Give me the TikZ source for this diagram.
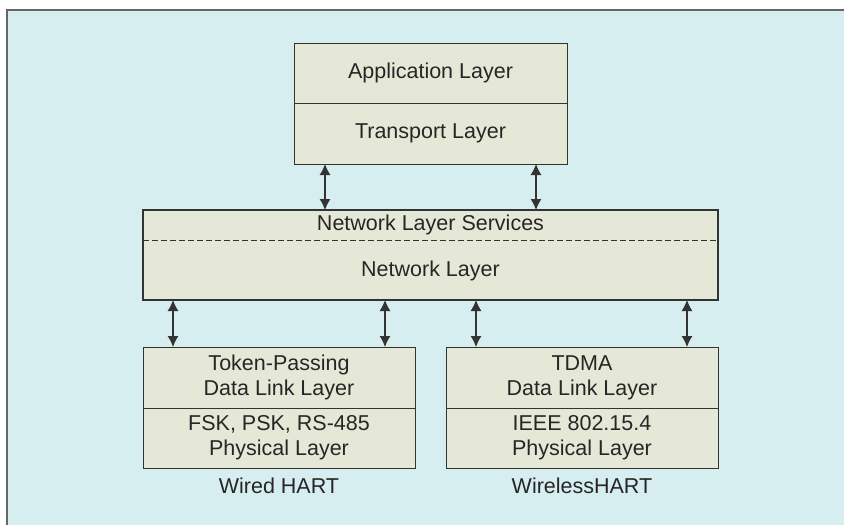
\documentclass[tikz,border=0pt]{standalone}
\usepackage{fontspec}
\setmainfont{Liberation Sans}
\usetikzlibrary{positioning,arrows.meta}
\definecolor{hartbg}{HTML}{D7EEF1}
\definecolor{hartbox}{HTML}{E6E8D7}
\definecolor{hartline}{HTML}{333333}
\definecolor{hartframe}{HTML}{666666}
\definecolor{harttext}{HTML}{262626}
\tikzset{
  layerbox/.style={rectangle, draw=hartline, fill=hartbox, line width=1pt, inner sep=0pt, outer sep=0pt,
    minimum width=272pt, minimum height=60pt, align=center, text=harttext, font=\fontsize{21.5}{25}\selectfont},
  plaintext/.style={inner sep=0pt, outer sep=0pt, align=center, text=harttext, font=\fontsize{21.5}{25}\selectfont},
  biarrow/.style={{Latex[length=11pt,width=11pt]}-{Latex[length=11pt,width=11pt]}, line width=1.1pt, draw=hartline}
}
\begin{document}
\begin{tikzpicture}[x=1pt, y=-1pt]
\useasboundingbox (0,0) rectangle (844,525);
\fill[hartbg] (7,10) rectangle (844,525);
\draw[hartframe, line width=2pt] (7,525) -- (7,10) -- (844,10);

\node[layerbox, minimum width=273pt] (app) at (430.5,73) {Application Layer};
\node[layerbox, minimum width=273pt, minimum height=61pt, below=0pt of app] (trans) {Transport Layer};

\node[layerbox, line width=1.3pt, minimum width=575pt, minimum height=90pt] (net) at (430.5,255) {};
\node[plaintext] (nls) at (430.5,225) {Network Layer Services};
\node[plaintext] (nl) at (430.5,271) {Network Layer};
\draw[hartline, line width=1pt, dash pattern=on 6pt off 3pt] (net.north west) ++(0,30) -- ++(575,0);

\node[layerbox, minimum height=61pt] (wdl) at (279,377.5) {Token-Passing\\Data Link Layer};
\node[layerbox, below=0pt of wdl] (wphy) {FSK, PSK, RS-485\\Physical Layer};
\node[plaintext, below=10pt of wphy] (wlab) {Wired HART};

\node[layerbox, minimum height=61pt] (xdl) at (582,377.5) {TDMA\\Data Link Layer};
\node[layerbox, below=0pt of xdl] (xphy) {IEEE 802.15.4\\Physical Layer};
\node[plaintext, below=10pt of xphy] (xlab) {WirelessHART};

\draw[biarrow] ([xshift=-105.5pt]trans.south) -- ([xshift=-105.5pt]trans.south |- net.north);
\draw[biarrow] ([xshift=105.5pt]trans.south) -- ([xshift=105.5pt]trans.south |- net.north);
\draw[biarrow] ([xshift=-106pt]wdl.north) -- ([xshift=-106pt]wdl.north |- net.south);
\draw[biarrow] ([xshift=106pt]wdl.north) -- ([xshift=106pt]wdl.north |- net.south);
\draw[biarrow] ([xshift=-106pt]xdl.north) -- ([xshift=-106pt]xdl.north |- net.south);
\draw[biarrow] ([xshift=105pt]xdl.north) -- ([xshift=105pt]xdl.north |- net.south);
\end{tikzpicture}
\end{document}
